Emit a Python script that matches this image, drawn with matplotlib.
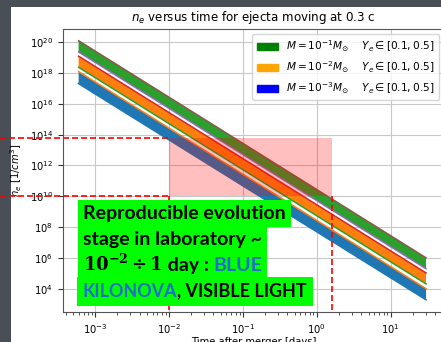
import matplotlib
matplotlib.use("Agg")
import matplotlib.pyplot as plt
from matplotlib.patches import Rectangle, Patch
import numpy as np

# time span of the curves [days]
t_days = [6e-4, 30.0]

# log10(n_e) at the two ends of each curve (Ye=0.1 lower, Ye=0.5 upper)
log_n_M3 = {"lo": [17.30, 3.30], "hi": [18.08, 4.02]}   # M = 1e-3 Msun
log_n_M2 = {"lo": [18.36, 4.33], "hi": [19.08, 5.04]}   # M = 1e-2 Msun
log_n_M1 = {"lo": [19.35, 5.31], "hi": [20.08, 6.02]}   # M = 1e-1 Msun

legend_colors = ["green", "orange", "blue"]
legend_labels = [r"$M=10^{-1}M_{\odot}\quad\ Y_e\in[0.1,0.5]$",
                 r"$M=10^{-2}M_{\odot}\quad\ Y_e\in[0.1,0.5]$",
                 r"$M=10^{-3}M_{\odot}\quad\ Y_e\in[0.1,0.5]$"]

# highlighted "lab window" on the plot
lab_t = [1e-2, 1.6]
lab_n = [1e10, 10**13.8]

y_ticks = [10.0**k for k in range(4, 21, 2)]

W, H = 441, 342
fig = plt.figure(figsize=(W / 100, H / 100), dpi=100, facecolor="#4a4e56")
fig.add_artist(Rectangle((11 / W, 0), 1, (H - 7) / H, transform=fig.transFigure,
                         fc="white", ec="none", zorder=-10))

ax = fig.add_axes([62.7 / W, 30 / H, (444 - 62.7) / W, (312 - 29) / H])
ax.set_xscale("log")
ax.set_yscale("log")

t = np.array(t_days)
for band in (log_n_M3, log_n_M2, log_n_M1):
    lo = 10.0 ** np.array(band["lo"])
    hi = 10.0 ** np.array(band["hi"])
    ax.plot(t, lo, lw=1.1)
    ax.plot(t, hi, lw=1.1)
    ax.fill_between(t, lo, hi)

ax.set_xlim(10**-3.437, 10**1.72)
ax.set_ylim(10**2.51, 10**20.84)
ax.set_yticks(y_ticks)
ax.yaxis.set_minor_locator(matplotlib.ticker.NullLocator())
ax.grid(True, color="#c8c8c8", lw=0.8)
ax.set_axisbelow(True)
for s in ax.spines.values():
    s.set_color("#555555")
    s.set_linewidth(0.8)
ax.tick_params(labelsize=7.2, colors="#333333", labelcolor="black")
ax.tick_params(which="minor", colors="#333333")

ax.set_title(r"$n_e$ versus time for ejecta moving at 0.3 c", fontsize=8.6)
ax.set_ylabel(r"$n_e$ [$1/cm^3$]", fontsize=7.2)
ax.set_xlabel("Time after merger [days]", fontsize=7.2, labelpad=1)

handles = [Patch(color=c) for c in legend_colors]
ax.legend(handles, legend_labels, loc="upper right", fontsize=7.6)

# translucent red box
ax.add_patch(Rectangle((lab_t[0], lab_n[0]), lab_t[1] - lab_t[0], lab_n[1] - lab_n[0],
                       fc="red", alpha=0.25, ec="none", zorder=5))

# red dashed guides running out to the slide edge
x_edge = ax.transData.inverted().transform((0, 0))[0]
y_bot = ax.get_ylim()[0]
dash = dict(color="red", lw=1.2, dashes=(3.6, 1.8), clip_on=False, zorder=6)
ax.plot([x_edge, lab_t[0]], [lab_n[1], lab_n[1]], **dash)
ax.plot([x_edge, lab_t[0]], [lab_n[0], lab_n[0]], **dash)
ax.plot([lab_t[0], lab_t[0]], [lab_n[0], y_bot], **dash)
ax.plot([lab_t[1], lab_t[1]], [lab_n[0], y_bot], **dash)

# green highlighted callout text
LIME = "#00ff00"
BLUE = "#1f6fc8"
font = dict(family="Lato", weight="bold", fontsize=14)
font_caps = dict(family="Lato", weight="bold", fontsize=12.9)
math = dict(fontsize=13, math_fontfamily="dejavuserif")

callout = [
    [("Reproducible evolution", "black", font)],
    [("stage in laboratory ~", "black", font)],
    [(r"$\mathbf{10^{-2}\div 1}$", "black", math),
     (" day : ", "black", font), ("BLUE", BLUE, font)],
    [("KILONOVA", BLUE, font_caps), (", VISIBLE LIGHT", "black", font_caps)],
]
baselines = [123, 97, 71.3, 45.3]
pads = [0.27, 0.27, 0.27, 0.33]


def put_line(line, yb, pad, with_box):
    # chain the pieces left to right on one baseline
    prev = None
    for s, col, kw in line:
        if with_box:
            extra = dict(bbox=dict(boxstyle=f"square,pad={pad}", fc=LIME, ec="none"),
                         color=LIME, zorder=10)
        else:
            extra = dict(color=col, zorder=11)
        if prev is None:
            prev = ax.annotate(s, xy=(83, yb), xycoords="figure pixels",
                               ha="left", va="baseline", **extra, **kw)
        else:
            prev = ax.annotate(s, xy=(1, yb), xycoords=(prev, "figure pixels"),
                               ha="left", va="baseline", **extra, **kw)


# highlight boxes first, then the words on top so no box hides a letter
for line, yb, pad in zip(callout, baselines, pads):
    put_line(line, yb, pad, True)
for line, yb, pad in zip(callout, baselines, pads):
    put_line(line, yb, pad, False)

fig.savefig("out.png", dpi=100, facecolor=fig.get_facecolor())
